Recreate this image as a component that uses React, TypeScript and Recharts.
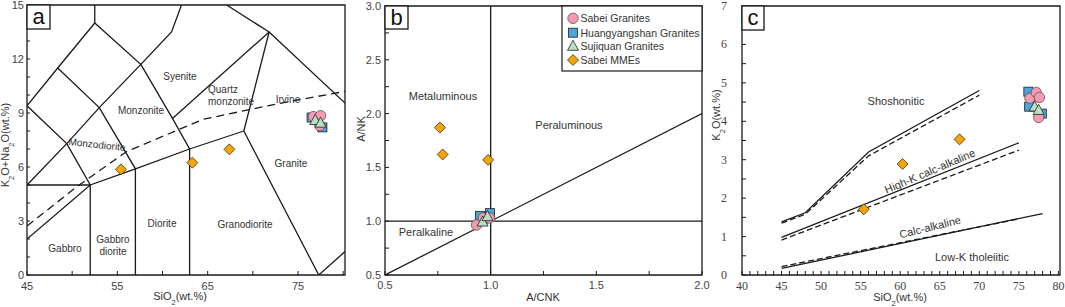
import React from 'react';
import { ScatterChart, Scatter, XAxis, YAxis, ReferenceArea } from 'recharts';

type P = { x: number; y: number };

const SANS = "'Liberation Sans', Arial, sans-serif";
const SERIF = "'Liberation Serif', 'Times New Roman', serif";
const INK = '#1a1a1a';

// ---------- Panel a : TAS (SiO2 vs K2O+Na2O) ----------
const aSabei: P[] = [{ x: 76.7, y: 8.8 }, { x: 77.5, y: 8.85 }, { x: 77.4, y: 8.3 }];
const aHuang: P[] = [{ x: 76.5, y: 8.75 }, { x: 77.7, y: 8.2 }];
const aSuji: P[] = [{ x: 76.9, y: 8.6 }, { x: 77.5, y: 8.45 }];
const aMME: P[] = [{ x: 55.4, y: 5.87 }, { x: 63.3, y: 6.24 }, { x: 67.4, y: 6.98 }];
const aLines: P[][] = [
  [{ x: 52.5, y: 15 }, { x: 52.5, y: 14 }],
  [{ x: 45, y: 9.4 }, { x: 48.4, y: 11.5 }, { x: 52.5, y: 14 }, { x: 57.6, y: 11.7 }, { x: 61, y: 13.5 }, { x: 62.1, y: 15 }],
  [{ x: 48.4, y: 11.5 }, { x: 53, y: 9.3 }, { x: 57, y: 5.9 }, { x: 57, y: 0 }],
  [{ x: 45, y: 9.4 }, { x: 49.4, y: 7.3 }, { x: 52, y: 5 }, { x: 52, y: 0 }],
  [{ x: 45, y: 5 }, { x: 49.4, y: 7.3 }, { x: 53, y: 9.3 }, { x: 57.6, y: 11.7 }],
  [{ x: 45, y: 5 }, { x: 52, y: 5 }],
  [{ x: 45, y: 2 }, { x: 52, y: 5 }, { x: 57, y: 5.9 }, { x: 63, y: 7 }, { x: 69, y: 8 }],
  [{ x: 57.6, y: 11.7 }, { x: 61.1, y: 8.7 }, { x: 63, y: 7 }, { x: 63, y: 0 }],
  [{ x: 61.1, y: 8.7 }, { x: 71.8, y: 13.5 }],
  [{ x: 69, y: 8 }, { x: 71.8, y: 13.5 }, { x: 67.1, y: 15 }],
  [{ x: 71.8, y: 13.5 }, { x: 80.2, y: 9.55 }],
  [{ x: 69, y: 8 }, { x: 77.3, y: 0 }, { x: 80.2, y: 1.3 }],
];
const aIrvine: P[] = [
  { x: 45, y: 2.72 }, { x: 50.5, y: 4.9 }, { x: 56, y: 6.85 }, { x: 64.5, y: 8.65 }, { x: 73, y: 9.54 }, { x: 80.2, y: 10.2 },
];
const aXMajor = [45, 55, 65, 75];
const aXTicks = [45, 50, 55, 60, 65, 70, 75, 80];
const aYMajor = [0, 3, 6, 9, 12, 15];
const aYTicks = [0, 1, 2, 3, 4, 5, 6, 7, 8, 9, 10, 11, 12, 13, 14, 15];

// ---------- Panel b : A/CNK vs A/NK ----------
const bSabei: P[] = [{ x: 0.933, y: 0.965 }, { x: 0.965, y: 1.03 }, { x: 0.995, y: 1.03 }];
const bHuang: P[] = [{ x: 0.95, y: 1.05 }, { x: 0.997, y: 1.075 }];
const bSuji: P[] = [{ x: 0.962, y: 0.995 }, { x: 0.985, y: 1.045 }];
const bMME: P[] = [{ x: 0.76, y: 1.87 }, { x: 0.773, y: 1.62 }, { x: 0.988, y: 1.57 }];
const bLines: P[][] = [
  [{ x: 1, y: 0.5 }, { x: 1, y: 3 }],
  [{ x: 0.5, y: 1 }, { x: 2, y: 1 }],
  [{ x: 0.5, y: 0.5 }, { x: 2, y: 2 }],
];
const bXMajor = [0.5, 1.0, 1.5, 2.0];
const bXTicks = [0.5, 0.75, 1.0, 1.25, 1.5, 1.75, 2.0];
const bYMajor = [0.5, 1.0, 1.5, 2.0, 2.5, 3.0];
const bYTicks = [0.5, 0.75, 1.0, 1.25, 1.5, 1.75, 2.0, 2.25, 2.5, 2.75, 3.0];

// ---------- Panel c : SiO2 vs K2O ----------
const cSabei: P[] = [{ x: 76.4, y: 4.6 }, { x: 77.2, y: 4.75 }, { x: 77.6, y: 4.62 }, { x: 77.5, y: 4.1 }];
const cHuang: P[] = [{ x: 76.2, y: 4.77 }, { x: 76.3, y: 4.38 }, { x: 77.9, y: 4.2 }];
const cSuji: P[] = [{ x: 77.0, y: 4.38 }, { x: 77.5, y: 4.29 }];
const cMME: P[] = [{ x: 55.4, y: 1.71 }, { x: 60.3, y: 2.89 }, { x: 67.5, y: 3.53 }];
const cSolid: P[][] = [
  [{ x: 45, y: 1.38 }, { x: 48, y: 1.62 }, { x: 56, y: 3.2 }, { x: 70, y: 4.8 }],
  [{ x: 45, y: 0.98 }, { x: 75, y: 3.44 }],
  [{ x: 45, y: 0.17 }, { x: 78, y: 1.6 }],
];
const cDashed: P[][] = [
  [{ x: 45, y: 1.35 }, { x: 48, y: 1.58 }, { x: 56, y: 3.1 }, { x: 70, y: 4.68 }],
  [{ x: 45, y: 0.91 }, { x: 75, y: 3.25 }],
  [{ x: 45, y: 0.22 }, { x: 75, y: 1.46 }],
];
const cXMajor = [40, 45, 50, 55, 60, 65, 70, 75, 80];
const cXTicks = Array.from({ length: 41 }, (_, i) => 40 + i);
const cYMajor = [0, 1, 2, 3, 4, 5, 6, 7];
const cYTicks = Array.from({ length: 15 }, (_, i) => i * 0.5);

// ---------- marker shapes ----------
const PINK = '#F49BB2';
const BLUE = '#48A5DA';
const GREEN = '#B9DFC3';
const ORANGE = '#F6A500';

const CircleM = (p: any) => <circle cx={p.cx} cy={p.cy} r={5.2} fill={PINK} stroke="#555" strokeWidth={0.8} />;
const SquareM = (p: any) => (
  <rect x={p.cx - 4.5} y={p.cy - 4.5} width={9} height={9} fill={BLUE} stroke="#222" strokeWidth={0.8} />
);
const TriM = (p: any) => (
  <polygon
    points={`${p.cx},${p.cy - 5.8} ${p.cx + 5.5},${p.cy + 4.3} ${p.cx - 5.5},${p.cy + 4.3}`}
    fill={GREEN}
    stroke="#222"
    strokeWidth={0.8}
  />
);
const DiamondM = (p: any) => (
  <polygon
    points={`${p.cx},${p.cy - 5.5} ${p.cx + 5.5},${p.cy} ${p.cx},${p.cy + 5.5} ${p.cx - 5.5},${p.cy}`}
    fill={ORANGE}
    stroke="#333"
    strokeWidth={0.8}
  />
);
const NoShape = () => <g />;

const near = (arr: number[], v: number) => arr.some((m) => Math.abs(m - v) < 1e-6);

function xTick(majors: number[], fmt: (v: number) => string, font: string, len: number, dy: number, size: number) {
  return (props: any) => {
    const { x, y, payload } = props;
    const v = payload.value;
    return (
      <g>
        <line x1={x} x2={x} y1={y} y2={y - len} stroke={INK} strokeWidth={1} />
        {near(majors, v) && (
          <text x={x} y={y + dy} textAnchor="middle" fontSize={size} fontFamily={font} fill="#444">
            {fmt(v)}
          </text>
        )}
      </g>
    );
  };
}
function yTick(majors: number[], fmt: (v: number) => string, font: string, len: number, dx: number, size: number, dy = 4) {
  return (props: any) => {
    const { x, y, payload } = props;
    const v = payload.value;
    return (
      <g>
        <line x1={x} x2={x + len} y1={y} y2={y} stroke={INK} strokeWidth={1} />
        {near(majors, v) && (
          <text x={x - dx} y={y + dy} textAnchor="end" fontSize={size} fontFamily={font} fill="#444">
            {fmt(v)}
          </text>
        )}
      </g>
    );
  };
}

const lineScatters = (segs: P[][], key: string, dash?: string) =>
  segs.map((seg, i) => (
    <Scatter
      key={key + i}
      data={seg}
      line={{ stroke: INK, strokeWidth: 1.3, strokeDasharray: dash }}
      shape={NoShape}
      legendType="none"
      isAnimationActive={false}
    />
  ));

const pointScatters = (h: P[], s: P[], t: P[], m: P[]) => [
  <Scatter key="h" data={h} shape={SquareM} isAnimationActive={false} />,
  <Scatter key="s" data={s} shape={CircleM} isAnimationActive={false} />,
  <Scatter key="t" data={t} shape={TriM} isAnimationActive={false} />,
  <Scatter key="m" data={m} shape={DiamondM} isAnimationActive={false} />,
];

const fmtInt = (v: number) => String(v);
const fmt1 = (v: number) => v.toFixed(1);

function PanelA() {
  return (
    <ScatterChart width={350} height={307} margin={{ top: 5, right: 5, bottom: 0, left: 0 }}>
      <XAxis type="number" dataKey="x" domain={[45, 80.2]} ticks={aXTicks} interval={0} tickSize={0} tickMargin={0}
        tickLine={false} axisLine={false} height={32} allowDataOverflow tick={xTick(aXMajor, fmtInt, SANS, 4, 15, 11)} />
      <YAxis type="number" dataKey="y" domain={[0, 15]} ticks={aYTicks} interval={0} tickSize={0} tickMargin={0}
        tickLine={false} axisLine={false} width={27} allowDataOverflow tick={yTick(aYMajor, fmtInt, SANS, 3, 3, 11, 4)} />
      <ReferenceArea x1={45} x2={80.2} y1={0} y2={15} fill="none" stroke={INK} strokeWidth={1.3} ifOverflow="visible" />
      {lineScatters(aLines, 'al')}
      {lineScatters([aIrvine], 'ai', '8 5')}
      {pointScatters(aHuang, aSabei, aSuji, aMME)}
    </ScatterChart>
  );
}

function PanelB() {
  return (
    <ScatterChart width={362} height={307} margin={{ top: 6, right: 15, bottom: 0, left: 0 }}>
      <XAxis type="number" dataKey="x" domain={[0.5, 2.0]} ticks={bXTicks} interval={0} tickSize={0} tickMargin={0}
        tickLine={false} axisLine={false} height={32} allowDataOverflow tick={xTick(bXMajor, fmt1, SANS, 4, 14, 11)} />
      <YAxis type="number" dataKey="y" domain={[0.5, 3.0]} ticks={bYTicks} interval={0} tickSize={0} tickMargin={0}
        tickLine={false} axisLine={false} width={30} allowDataOverflow tick={yTick(bYMajor, fmt1, SANS, 4, 4, 11)} />
      <ReferenceArea x1={0.5} x2={2.0} y1={0.5} y2={3.0} fill="none" stroke={INK} strokeWidth={1.3} ifOverflow="visible" />
      {lineScatters(bLines, 'bl')}
      {pointScatters(bHuang, bSabei, bSuji, bMME)}
    </ScatterChart>
  );
}

function PanelC() {
  return (
    <ScatterChart width={355} height={307} margin={{ top: 6, right: 5, bottom: 0, left: 0 }}>
      <XAxis type="number" dataKey="x" domain={[40, 80.2]} ticks={cXTicks} interval={0} tickSize={0} tickMargin={0}
        tickLine={false} axisLine={false} height={32} allowDataOverflow tick={xTick(cXMajor, fmtInt, SERIF, 4, 15, 12)} />
      <YAxis type="number" dataKey="y" domain={[0, 7]} ticks={cYTicks} interval={0} tickSize={0} tickMargin={0}
        tickLine={false} axisLine={false} width={32} allowDataOverflow tick={yTick(cYMajor, fmtInt, SERIF, 4, 15, 12)} />
      <ReferenceArea x1={40} x2={80.2} y1={0} y2={7} fill="none" stroke={INK} strokeWidth={1.3} ifOverflow="visible" />
      {lineScatters(cSolid, 'cs')}
      {lineScatters(cDashed, 'cd', '6 3')}
      {pointScatters(cHuang, cSabei, cSuji, cMME)}
    </ScatterChart>
  );
}

const legendItems = [
  { name: 'Sabei Granites', Shape: CircleM },
  { name: 'Huangyangshan Granites', Shape: SquareM },
  { name: 'Sujiquan Granites', Shape: TriM },
  { name: 'Sabei MMEs', Shape: DiamondM },
];

const Sub = ({ children }: { children: React.ReactNode }) => (
  <tspan baselineShift="sub" fontSize={7.5}>{children}</tspan>
);

function Overlay() {
  const lbl = { fontFamily: SANS, fontSize: 10, fill: '#333' } as const;
  const lbl11 = { fontFamily: SANS, fontSize: 11, fill: '#333' } as const;
  const title = { fontFamily: SANS, fontSize: 11, fill: '#333', textAnchor: 'middle' as const };
  return (
    <svg width={1065} height={307} style={{ position: 'absolute', left: 0, top: 0, pointerEvents: 'none' }}>
      {/* panel letters */}
      <rect x={27} y={5} width={23} height={24} fill="#fff" stroke={INK} strokeWidth={1.3} />
      <text x={38.5} y={24} textAnchor="middle" fontFamily={SANS} fontSize={22} fill="#111">a</text>
      <rect x={385} y={6} width={23} height={23} fill="#fff" stroke={INK} strokeWidth={1.3} />
      <text x={396.5} y={24.5} textAnchor="middle" fontFamily={SANS} fontSize={22} fill="#111">b</text>
      <rect x={742} y={6} width={22} height={24} fill="#fff" stroke={INK} strokeWidth={1.3} />
      <text x={753} y={24.5} textAnchor="middle" fontFamily={SANS} fontSize={22} fill="#111">c</text>

      {/* panel a field names */}
      <text x={180} y={80} textAnchor="middle" {...lbl}>Syenite</text>
      <text x={208} y={93} {...lbl}>Quartz</text>
      <text x={208} y={105} {...lbl}>monzonite</text>
      <text x={288} y={103} textAnchor="middle" {...lbl}>Irvine</text>
      <text x={141} y={114} textAnchor="middle" {...lbl}>Monzonite</text>
      <text x={97} y={148} textAnchor="middle" transform="rotate(6 97 145)" {...lbl}>Monzodiorite</text>
      <text x={291} y={167} textAnchor="middle" {...lbl}>Granite</text>
      <text x={162} y={227} textAnchor="middle" {...lbl}>Diorite</text>
      <text x={245} y={228} textAnchor="middle" {...lbl}>Granodiorite</text>
      <text x={65} y={252} textAnchor="middle" {...lbl}>Gabbro</text>
      <text x={113} y={243} textAnchor="middle" {...lbl}>Gabbro</text>
      <text x={113} y={255} textAnchor="middle" {...lbl}>diorite</text>

      {/* panel b field names */}
      <text x={443} y={100} textAnchor="middle" {...lbl11}>Metaluminous</text>
      <text x={569} y={129} textAnchor="middle" {...lbl11}>Peraluminous</text>
      <text x={426} y={236} textAnchor="middle" {...lbl11}>Peralkaline</text>

      {/* panel b legend */}
      <rect x={562} y={6} width={140} height={65} fill="#fff" stroke={INK} strokeWidth={1.2} />
      {legendItems.map((it, i) => {
        const cy = [18.3, 32.7, 46, 60][i];
        const S = it.Shape;
        return (
          <g key={it.name}>
            <S cx={573} cy={cy} />
            <text x={580.5} y={cy + 4} fontFamily={SANS} fontSize={10.5} fill="#333">{it.name}</text>
          </g>
        );
      })}

      {/* panel c series names */}
      <text x={896} y={105} textAnchor="middle" {...lbl11}>Shoshonitic</text>
      <text x={930} y={175} textAnchor="middle" transform="rotate(-23 930 171.5)" {...lbl11}>High-K calc-alkaline</text>
      <text x={930} y={231} textAnchor="middle" transform="rotate(-14 930 227)" {...lbl11}>Calc-alkaline</text>
      <text x={972} y={261} textAnchor="middle" {...lbl11}>Low-K tholeiitic</text>

      {/* axis titles */}
      <text x={180} y={300} {...title}>SiO<Sub>2</Sub>(wt.%)</text>
      <text x={9} y={145} transform="rotate(-90 9 145)" {...title}>
        K<Sub>2</Sub>O+Na<Sub>2</Sub>O(wt.%)
      </text>
      <text x={543} y={301} {...title}>A/CNK</text>
      <text x={365} y={129} transform="rotate(-90 365 129)" {...title}>A/NK</text>
      <text x={900} y={301} {...title}>SiO<Sub>2</Sub>(wt.%)</text>
      <text x={720} y={115} transform="rotate(-90 720 115)" {...title}>K<Sub>2</Sub>O(wt.%)</text>
    </svg>
  );
}

export default function App() {
  return (
    <div style={{ position: 'absolute', left: 0, top: 0, width: 1065, height: 307, background: '#fff', overflow: 'hidden' }}>
      <div style={{ position: 'absolute', left: 0, top: 0 }}>
        <PanelA />
      </div>
      <div style={{ position: 'absolute', left: 355, top: 0 }}>
        <PanelB />
      </div>
      <div style={{ position: 'absolute', left: 710, top: 0 }}>
        <PanelC />
      </div>
      <Overlay />
    </div>
  );
}
